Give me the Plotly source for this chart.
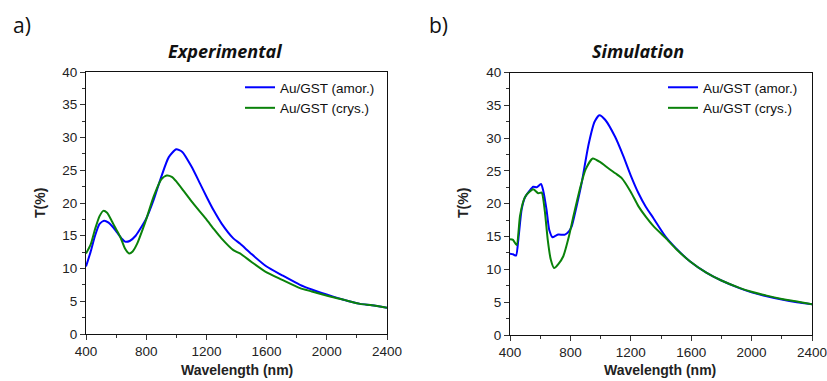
import plotly.graph_objects as go
from plotly.subplots import make_subplots

# Experimental transmission spectra
exp_wl_amor = [400, 430, 460, 490, 520, 550, 580, 610, 640, 660, 690, 730, 770, 800, 850, 900, 950, 1000,
               1040, 1100, 1157, 1200, 1250, 1300, 1379, 1423, 1500, 1600, 1700, 1822, 1900, 2043, 2100,
               2221, 2300, 2400]
exp_t_amor = [10.3, 12.5, 15.0, 16.8, 17.3, 17.0, 16.3, 15.4, 14.5, 14.1, 14.2, 15.0, 16.4, 17.6, 20.5, 24.0,
              27.0, 28.2, 27.8, 25.6, 23.0, 21.0, 18.8, 16.9, 14.6, 13.8, 12.2, 10.3, 9.0, 7.5, 6.8, 5.7, 5.3,
              4.6, 4.4, 4.0]

exp_wl_crys = [400, 430, 460, 490, 515, 540, 570, 600, 630, 660, 686, 710, 740, 780, 800, 850, 900, 936, 970,
               1000, 1050, 1100, 1157, 1200, 1250, 1300, 1379, 1423, 1500, 1600, 1700, 1822, 1900, 2043, 2100,
               2221, 2300, 2400]
exp_t_crys = [12.3, 13.6, 16.0, 18.0, 18.8, 18.5, 17.3, 16.0, 14.7, 13.0, 12.3, 12.6, 13.8, 16.2, 17.5, 21.0,
              23.6, 24.2, 24.0, 23.3, 21.8, 20.3, 18.7, 17.5, 16.0, 14.6, 12.8, 12.3, 11.0, 9.4, 8.3, 7.0, 6.5,
              5.6, 5.3, 4.6, 4.4, 4.0]

# Simulated transmission spectra
sim_wl_amor = [400, 420, 440, 455, 477, 500, 530, 554, 577, 605, 620, 642, 660, 682, 700, 720, 764, 790, 808,
               840, 874, 920, 960, 992, 1030, 1096, 1150, 1200, 1251, 1300, 1350, 1430, 1500, 1593, 1700, 1800,
               1924, 2000, 2100, 2200, 2300, 2400]
sim_t_amor = [12.4, 12.3, 12.1, 14.5, 19.1, 21.0, 22.0, 22.6, 22.5, 23.0, 22.0, 19.1, 16.0, 14.9, 15.1, 15.3,
              15.3, 15.8, 16.5, 19.5, 23.1, 29.0, 32.5, 33.5, 32.8, 30.2, 27.3, 24.3, 21.6, 19.5, 17.8, 15.0,
              13.2, 11.2, 9.5, 8.3, 7.1, 6.5, 5.9, 5.4, 5.0, 4.7]

sim_wl_crys = [400, 420, 444, 466, 490, 510, 554, 587, 610, 630, 650, 670, 692, 720, 753, 790, 820, 860, 900,
               948, 1000, 1051, 1100, 1140, 1200, 1251, 1300, 1350, 1430, 1500, 1593, 1700, 1800, 1924, 2000,
               2100, 2200, 2300, 2400]
sim_t_crys = [14.6, 14.5, 13.7, 18.1, 20.5, 21.4, 22.2, 21.6, 21.7, 19.0, 14.5, 11.5, 10.2, 10.8, 12.0, 15.0,
              18.1, 22.0, 25.2, 26.9, 26.3, 25.4, 24.6, 23.9, 21.8, 19.6, 18.0, 16.6, 14.8, 13.1, 11.2, 9.5,
              8.3, 7.15, 6.6, 6.0, 5.5, 5.1, 4.7]

series_names = ["Au/GST (amor.)", "Au/GST (crys.)"]
panel_titles = ["Experimental", "Simulation"]
panel_labels = ["a)", "b)"]
x_ticks = [400, 800, 1200, 1600, 2000, 2400]
y_ticks = [0, 5, 10, 15, 20, 25, 30, 35, 40]

BLUE = "#0000ff"
GREEN = "#0a820a"
SANS = "Arial, Liberation Sans, sans-serif"
AX_FONT = dict(family=SANS, size=13.5, color="#222222")

fig = make_subplots(rows=1, cols=2)

panels = [
    (1, "legend", exp_wl_amor, exp_t_amor, exp_wl_crys, exp_t_crys),
    (2, "legend2", sim_wl_amor, sim_t_amor, sim_wl_crys, sim_t_crys),
]
for col, leg, wa, ta, wc, tc in panels:
    fig.add_trace(go.Scatter(x=wa, y=ta, mode="lines", name=series_names[0], legend=leg,
                             line=dict(color=BLUE, width=2, shape="spline", smoothing=0.6)), row=1, col=col)
    fig.add_trace(go.Scatter(x=wc, y=tc, mode="lines", name=series_names[1], legend=leg,
                             line=dict(color=GREEN, width=2, shape="spline", smoothing=0.6)), row=1, col=col)

axis_common = dict(showgrid=False, zeroline=False, showline=True, linecolor="#111111", linewidth=1,
                   mirror=True, ticks="outside", ticklen=5, tickwidth=1, tickcolor="#333333",
                   tickfont=AX_FONT, automargin=False, ticklabeloverflow="allow")
fig.update_xaxes(range=[400, 2400], tickvals=x_ticks,
                 minor=dict(dtick=200, ticks="outside", ticklen=3, tickcolor="#333333"), **axis_common)
fig.update_yaxes(range=[0, 40], tickvals=y_ticks,
                 minor=dict(dtick=2.5, ticks="outside", ticklen=3, tickcolor="#333333"), **axis_common)

W, H = 827, 381
fig.update_layout(
    xaxis=dict(domain=[86 / W, 387 / W]),
    xaxis2=dict(domain=[510 / W, 812 / W]),
    yaxis=dict(domain=[1 - 334 / H, 1 - 72 / H]),
    yaxis2=dict(domain=[1 - 335 / H, 1 - 72.5 / H]),
)

leg_common = dict(font=dict(family=SANS, size=13.5, color="#111111"),
                  bgcolor="rgba(0,0,0,0)", borderwidth=0, xanchor="left", yanchor="top",
                  tracegroupgap=0, itemwidth=30)
fig.update_layout(
    legend=dict(x=240 / W, y=1 - 72 / H, **leg_common),
    legend2=dict(x=663 / W, y=1 - 72 / H, **leg_common),
)

# Panel titles, axis titles and panel labels
annotations = []
for cx, title in zip([225, 638], panel_titles):
    annotations.append(dict(x=cx / W, y=1 - 51 / H, xref="paper", yref="paper", text=f"<b><i>{title}</i></b>",
                            showarrow=False, xanchor="center", yanchor="middle",
                            font=dict(family="Open Sans, sans-serif", size=18, color="#111111")))
for cx in [237, 660]:
    annotations.append(dict(x=cx / W, y=1 - 370 / H, xref="paper", yref="paper", text="<b>Wavelength (nm)</b>",
                            showarrow=False, xanchor="center", yanchor="middle",
                            font=dict(family=SANS, size=14, color="#222222")))
for cx in [40, 463]:
    annotations.append(dict(x=cx / W, y=1 - 203 / H, xref="paper", yref="paper", text="<b>T(%)</b>",
                            showarrow=False, xanchor="center", yanchor="middle", textangle=-90,
                            font=dict(family=SANS, size=14, color="#222222")))
for cx, lab in zip([22, 438], panel_labels):
    annotations.append(dict(x=cx / W, y=1 - 25 / H, xref="paper", yref="paper", text=lab,
                            showarrow=False, xanchor="center", yanchor="middle",
                            font=dict(family="Open Sans, sans-serif", size=21, color="#111111")))

fig.update_layout(
    width=W, height=H, margin=dict(l=0, r=0, t=0, b=0, autoexpand=False),
    paper_bgcolor="white", plot_bgcolor="white",
    annotations=annotations, showlegend=True,
)

fig.write_html("out.html")
